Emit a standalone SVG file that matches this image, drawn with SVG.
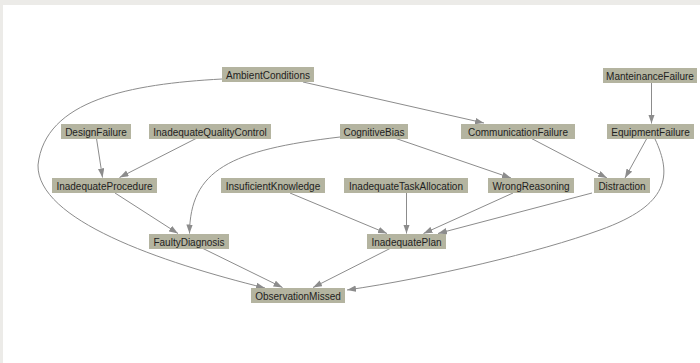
<svg xmlns="http://www.w3.org/2000/svg" width="700" height="363" viewBox="0 0 700 363">
<style>
.n rect{fill:#b4b4a0;}
.n text{font-family:"Liberation Sans",Arial,sans-serif;font-size:10px;fill:#1e1e1e;text-anchor:middle;}
.e path{fill:none;stroke:#8c8c8c;stroke-width:1;marker-end:url(#arr);}
</style>
<defs>
<marker id="arr" markerUnits="userSpaceOnUse" markerWidth="10" markerHeight="7" refX="9" refY="3.2" orient="auto">
<path d="M0,0 L9,3.2 L0,6.4 z" fill="#8c8c8c"/>
</marker>
</defs>
<rect x="0" y="0" width="700" height="363" fill="#ffffff"/>
<rect x="0" y="0" width="700" height="5" fill="#ecebe8"/>
<rect x="0" y="0" width="3" height="363" fill="#ecebe8"/>
<g id="edges" class="e">
<path d="M303,82 L484,123"/>
<path d="M222,79 C130,84 45,100 38,165 C37,220 160,262 265,288"/>
<path d="M96.5,138.5 L102.5,177.5"/>
<path d="M196,138.5 L119.5,177.5"/>
<path d="M340,137 C230,150 190,170 189.5,233.5"/>
<path d="M396,138.5 L511,178"/>
<path d="M531.5,138.5 L607,178"/>
<path d="M651.5,83 L651.5,123.5"/>
<path d="M646.5,139 L625,178"/>
<path d="M655,139 C672,175 670,205 600,230 C540,252 430,278 347,290"/>
<path d="M290,193 L387,233.5"/>
<path d="M406.5,193 L406.5,233.5"/>
<path d="M513,193 L423.5,233.5"/>
<path d="M592,193 L438,233.5"/>
<path d="M115,193 L178,233.5"/>
<path d="M203,248.5 L282.5,287.5"/>
<path d="M390,248.5 L313,287.5"/>
</g>
<g id="AmbientConditions" class="n"><rect x="222" y="67" width="92" height="15"/><text x="268" y="78.5">AmbientConditions</text></g>
<g id="ManteinanceFailure" class="n"><rect x="603" y="68" width="94" height="15"/><text x="650" y="79.5">ManteinanceFailure</text></g>
<g id="DesignFailure" class="n"><rect x="61" y="124" width="70" height="15"/><text x="96" y="135.5">DesignFailure</text></g>
<g id="InadequateQualityControl" class="n"><rect x="149" y="124" width="122" height="15"/><text x="210" y="135.5">InadequateQualityControl</text></g>
<g id="CognitiveBias" class="n"><rect x="340" y="124" width="68" height="15"/><text x="374" y="135.5">CognitiveBias</text></g>
<g id="CommunicationFailure" class="n"><rect x="461" y="124" width="114" height="15"/><text x="518" y="135.5">CommunicationFailure</text></g>
<g id="EquipmentFailure" class="n"><rect x="607" y="124" width="87" height="15"/><text x="650.5" y="135.5">EquipmentFailure</text></g>
<g id="InadequateProcedure" class="n"><rect x="52" y="178" width="105" height="15"/><text x="104.5" y="189.5">InadequateProcedure</text></g>
<g id="InsuficientKnowledge" class="n"><rect x="221" y="178" width="104" height="15"/><text x="273" y="189.5">InsuficientKnowledge</text></g>
<g id="InadequateTaskAllocation" class="n"><rect x="344" y="178" width="124" height="15"/><text x="406" y="189.5">InadequateTaskAllocation</text></g>
<g id="WrongReasoning" class="n"><rect x="488" y="178" width="86" height="15"/><text x="531" y="189.5">WrongReasoning</text></g>
<g id="Distraction" class="n"><rect x="594" y="178" width="56" height="15"/><text x="622" y="189.5">Distraction</text></g>
<g id="FaultyDiagnosis" class="n"><rect x="149" y="234" width="80" height="15"/><text x="189" y="245.5">FaultyDiagnosis</text></g>
<g id="InadequatePlan" class="n"><rect x="367" y="234" width="79" height="15"/><text x="406.5" y="245.5">InadequatePlan</text></g>
<g id="ObservationMissed" class="n"><rect x="251" y="288" width="94" height="15"/><text x="298" y="299.5">ObservationMissed</text></g>
</svg>
